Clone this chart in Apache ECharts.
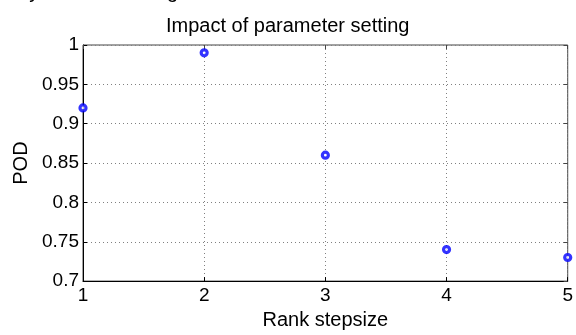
<!DOCTYPE html>
<html>
<head>
<meta charset="utf-8">
<script src="https://cdn.jsdelivr.net/npm/echarts@6/dist/echarts.min.js"></script>
<style>
  html, body { margin: 0; padding: 0; background: #fff; }
  #chart { width: 576px; height: 335px; }
</style>
</head>
<body>
<div id="chart"></div>
<script>
// rank stepsize on x, POD on y
const stepsizes = [1, 2, 3, 4, 5]
const podValues = [0.92, 0.99, 0.86, 0.74, 0.73]
const yTicks = [0.7, 0.75, 0.8, 0.85, 0.9, 0.95, 1]

const chart = echarts.init(document.getElementById("chart"))
const font = "Liberation Sans, Arial, sans-serif"

const points = stepsizes.map((s, i) => [s, podValues[i]])

const gridLine = {
  show: true,
  lineStyle: { color: "#808080", type: [1, 3], width: 1 }
}

chart.setOption({
  backgroundColor: "#fff",
  animation: false,
  textStyle: { fontFamily: font },
  title: {
    text: "Impact of parameter setting",
    left: 161,
    top: 11,
    textStyle: { fontFamily: font, fontSize: 20, fontWeight: "normal", color: "#000" }
  },
  graphic: [
    {
      // bottom edge of a line of body text cut off above the figure
      type: "text",
      left: -2,
      top: -18,
      style: {
        text: "ually with the setting of L / 1.",
        font: "20px Liberation Sans, Arial, sans-serif",
        fill: "#000"
      }
    }
  ],
  grid: {
    left: 83,
    right: 5,
    top: 45,
    bottom: 49,
    show: true,
    borderColor: "#444",
    borderWidth: 1
  },
  xAxis: [
    {
      type: "value",
      min: 1,
      max: 5,
      interval: 1,
      name: "Rank stepsize",
      nameLocation: "middle",
      nameGap: 22,
      nameTextStyle: { fontSize: 20, color: "#000", verticalAlign: "top" },
      axisLine: { show: true, onZero: false, lineStyle: { color: "#000" } },
      axisTick: { show: true, inside: true, length: 4, lineStyle: { color: "#000" } },
      axisLabel: { fontSize: 19, color: "#000", margin: 5 },
      splitLine: gridLine
    },
    {
      type: "value",
      position: "top",
      min: 1,
      max: 5,
      interval: 1,
      axisLine: { show: false },
      axisTick: { show: true, inside: true, length: 4, lineStyle: { color: "#444" } },
      axisLabel: { show: false },
      splitLine: { show: false }
    }
  ],
  yAxis: [
    {
      type: "value",
      min: yTicks[0],
      max: yTicks[yTicks.length - 1],
      interval: 0.05,
      name: "POD",
      nameLocation: "middle",
      nameGap: 52,
      nameTextStyle: { fontSize: 20, color: "#000" },
      axisLine: { show: true, onZero: false, lineStyle: { color: "#000" } },
      axisTick: { show: true, inside: true, length: 4, lineStyle: { color: "#000" } },
      axisLabel: { fontSize: 19, color: "#000", margin: 4 },
      splitLine: gridLine
    },
    {
      type: "value",
      position: "right",
      min: yTicks[0],
      max: yTicks[yTicks.length - 1],
      interval: 0.05,
      axisLine: { show: false },
      axisTick: { show: true, inside: true, length: 4, lineStyle: { color: "#444" } },
      axisLabel: { show: false },
      splitLine: { show: false }
    }
  ],
  series: [
    {
      type: "scatter",
      data: points,
      symbol: "circle",
      symbolSize: 6,
      clip: false,
      z: 5,
      itemStyle: {
        color: "#fff",
        borderColor: "#0000ff",
        borderWidth: 3.2
      }
    }
  ]
})
</script>
</body>
</html>
